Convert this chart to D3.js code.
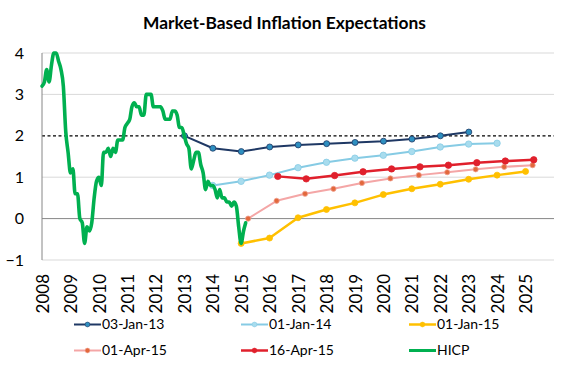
<!DOCTYPE html>
<html><head><meta charset="utf-8">
<script src="https://cdn.jsdelivr.net/npm/d3@7"></script>
<style>html,body{margin:0;padding:0;background:#fff;} svg{display:block;font-family:Lato,"Open Sans",sans-serif;}</style>
</head><body><svg id="c" width="568" height="372"></svg>
<script>
// ---------- data ----------
const titleText = "Market-Based Inflation Expectations";
const yTicks = [-1, 0, 1, 2, 3, 4];
const yearTicks = [2008,2009,2010,2011,2012,2013,2014,2015,2016,2017,2018,2019,2020,2021,2022,2023,2024,2025];
const targetLine = 2;

const jan13Dates = ["2013-01-03","2014-01-03","2015-01-03","2016-01-03","2017-01-03","2018-01-03","2019-01-03","2020-01-03","2021-01-03","2022-01-03","2023-01-03"];
const jan13Values = [2.0, 1.70, 1.62, 1.73, 1.78, 1.81, 1.84, 1.87, 1.92, 2.0, 2.09];

const jan14Dates = ["2014-01-01","2015-01-01","2016-01-01","2017-01-01","2018-01-01","2019-01-01","2020-01-01","2021-01-01","2022-01-01","2023-01-01","2024-01-01"];
const jan14Values = [0.80, 0.90, 1.05, 1.23, 1.36, 1.46, 1.53, 1.62, 1.73, 1.80, 1.82];

const jan15Dates = ["2015-01-01","2016-01-01","2017-01-01","2018-01-01","2019-01-01","2020-01-01","2021-01-01","2022-01-01","2023-01-01","2024-01-01","2025-01-01"];
const jan15Values = [-0.60, -0.47, 0.02, 0.22, 0.38, 0.58, 0.72, 0.83, 0.95, 1.05, 1.14];

const apr01Dates = ["2015-04-01","2016-04-01","2017-04-01","2018-04-01","2019-04-01","2020-04-01","2021-04-01","2022-04-01","2023-04-01","2024-04-01","2025-04-01"];
const apr01Values = [0.0, 0.43, 0.60, 0.72, 0.86, 0.97, 1.05, 1.12, 1.19, 1.25, 1.29];

const apr16Dates = ["2016-04-16","2017-04-16","2018-04-16","2019-04-16","2020-04-16","2021-04-16","2022-04-16","2023-04-16","2024-04-16","2025-04-16"];
const apr16Values = [1.02, 0.96, 1.04, 1.13, 1.20, 1.25, 1.29, 1.35, 1.39, 1.42];

const hicpStart = "2008-01-01";
const hicpValues = [
  3.2,3.3,3.6,3.3,3.7,4.0,4.0,3.8,3.6,3.2,2.1,1.6,
  1.1,1.2,0.6,0.6,0.0,-0.1,-0.6,-0.2,-0.3,-0.1,0.5,0.9,
  1.0,0.8,1.6,1.6,1.7,1.5,1.7,1.6,1.9,1.9,1.9,2.2,
  2.3,2.4,2.7,2.8,2.7,2.7,2.5,2.5,3.0,3.0,3.0,2.7,
  2.7,2.7,2.7,2.6,2.4,2.4,2.4,2.6,2.6,2.5,2.2,2.2,
  2.0,1.8,1.7,1.2,1.4,1.6,1.6,1.3,1.1,0.7,0.9,0.8,
  0.8,0.7,0.5,0.7,0.5,0.5,0.4,0.4,0.3,0.4,0.3,-0.2,
  -0.6,-0.3,-0.1
];

const seriesNames = ["03-Jan-13","01-Jan-14","01-Jan-15","01-Apr-15","16-Apr-15","HICP"];

// ---------- setup ----------
const parse = d3.timeParse("%Y-%m-%d");
const svg = d3.select("#c");
const pLeft = 42, pRight = 554, pTop = 53, pBottom = 260;

const x = d3.scaleTime().domain([parse("2008-01-01"), parse("2026-01-01")]).range([pLeft, pRight]);
const y = d3.scaleLinear().domain([-1, 4]).range([pBottom, pTop]);

const styles = [
  {line:"#1f3864", w:2,   mfill:"#2e8fc0", mstroke:"#1f3864", r:3},
  {line:"#86cbe4", w:2,   mfill:"#a8dcee", mstroke:"#86cbe4", r:3.2},
  {line:"#ffc000", w:2.5, mfill:"#ffc000", mstroke:"#ffc000", r:3},
  {line:"#f4a6a6", w:2,   mfill:"#e2683c", mstroke:"#f0a090", r:2.6},
  {line:"#e0202c", w:2.5, mfill:"#e0202c", mstroke:"#e0202c", r:3.2},
  {line:"#00b050", w:3.6, mfill:null}
];

const fwd = [
  [jan13Dates, jan13Values],
  [jan14Dates, jan14Values],
  [jan15Dates, jan15Values],
  [apr01Dates, apr01Values],
  [apr16Dates, apr16Values]
].map(([ds, vs]) => ds.map((d, i) => ({date: parse(d), v: vs[i]})));

const hicp = hicpValues.map((v, i) => ({date: d3.timeMonth.offset(parse(hicpStart), i), v}));

// ---------- title ----------
const title = svg.append("text").attr("x", 284.5).attr("y", 29)
  .attr("text-anchor", "middle").attr("font-weight", "bold").attr("font-size", 17)
  .attr("fill", "#000").text(titleText);
{ const w = title.node().getComputedTextLength(); title.attr("font-size", 17 * 283 / w); }

// ---------- gridlines ----------
svg.append("g").selectAll("line").data(yTicks.filter(t => t !== 0 && t !== targetLine)).join("line")
  .attr("x1", pLeft).attr("x2", pRight).attr("y1", d => y(d)).attr("y2", d => y(d))
  .attr("stroke", "#d9d9d9").attr("stroke-width", 1);
svg.append("line").attr("x1", pLeft).attr("x2", pRight).attr("y1", y(0)).attr("y2", y(0))
  .attr("stroke", "#868686").attr("stroke-width", 1);
svg.append("line").attr("x1", pLeft).attr("x2", pRight).attr("y1", y(targetLine)).attr("y2", y(targetLine))
  .attr("stroke", "#000").attr("stroke-width", 1.2).attr("stroke-dasharray", "3,2.5");
svg.append("line").attr("x1", pLeft).attr("x2", pLeft).attr("y1", pTop).attr("y2", pBottom)
  .attr("stroke", "#868686").attr("stroke-width", 1);

// ---------- y axis labels ----------
const yAxis = svg.append("g").attr("transform", `translate(${pLeft},0)`)
  .call(d3.axisLeft(y).tickValues(yTicks).tickSize(0).tickPadding(18).tickFormat(d3.format("d")));
yAxis.select(".domain").remove();
yAxis.selectAll("text").attr("font-size", 16).attr("fill", "#000").attr("font-family", "Lato,sans-serif");

// ---------- x axis labels ----------
const xAxis = svg.append("g").attr("transform", `translate(0,${pBottom})`)
  .call(d3.axisBottom(x).tickValues(yearTicks.map(yr => new Date(yr, 0, 1))).tickSize(0).tickFormat(d3.timeFormat("%Y")));
xAxis.select(".domain").remove();
xAxis.selectAll("text")
  .attr("font-size", 17).attr("fill", "#000").attr("font-family", "Lato,sans-serif")
  .attr("text-anchor", "end").attr("transform", "rotate(-90)")
  .attr("x", -14).attr("y", 0).attr("dy", "0.36em");

// ---------- series ----------
const lineGen = d3.line().x(d => x(d.date)).y(d => y(d.v));
fwd.forEach((data, i) => {
  const s = styles[i];
  const g = svg.append("g");
  g.append("path").datum(data).attr("d", lineGen).attr("fill", "none")
    .attr("stroke", s.line).attr("stroke-width", s.w).attr("stroke-linejoin", "round").attr("stroke-linecap", "round");
  g.selectAll("circle").data(data).join("circle")
    .attr("cx", d => x(d.date)).attr("cy", d => y(d.v)).attr("r", s.r)
    .attr("fill", s.mfill).attr("stroke", s.mstroke).attr("stroke-width", 0.8);
});
svg.append("path").datum(hicp)
  .attr("d", d3.line().x(d => x(d.date)).y(d => y(d.v)).curve(d3.curveMonotoneX))
  .attr("fill", "none").attr("stroke", styles[5].line).attr("stroke-width", styles[5].w)
  .attr("stroke-linejoin", "round").attr("stroke-linecap", "round");

// ---------- legend ----------
const legX = [74, 241, 409], legY = [324.5, 350.5];
const leg = svg.append("g");
seriesNames.forEach((name, i) => {
  const s = styles[i];
  const lx = legX[i % 3], ly = legY[Math.floor(i / 3)];
  leg.append("line").attr("x1", lx).attr("x2", lx + 27).attr("y1", ly).attr("y2", ly)
    .attr("stroke", s.line).attr("stroke-width", Math.min(s.w, 3));
  if (s.mfill) leg.append("circle").attr("cx", lx + 13.5).attr("cy", ly).attr("r", 2.4)
    .attr("fill", s.mfill).attr("stroke", s.mstroke).attr("stroke-width", 0.6);
  leg.append("text").attr("x", lx + 28).attr("y", ly).attr("dy", "0.35em")
    .attr("font-size", 16).attr("fill", "#000").text(name);
});
{ const t0 = leg.select("text").node();
  const w = t0.getComputedTextLength();
  leg.selectAll("text").attr("font-size", 16 * 62.5 / w); }
</script></body></html>
